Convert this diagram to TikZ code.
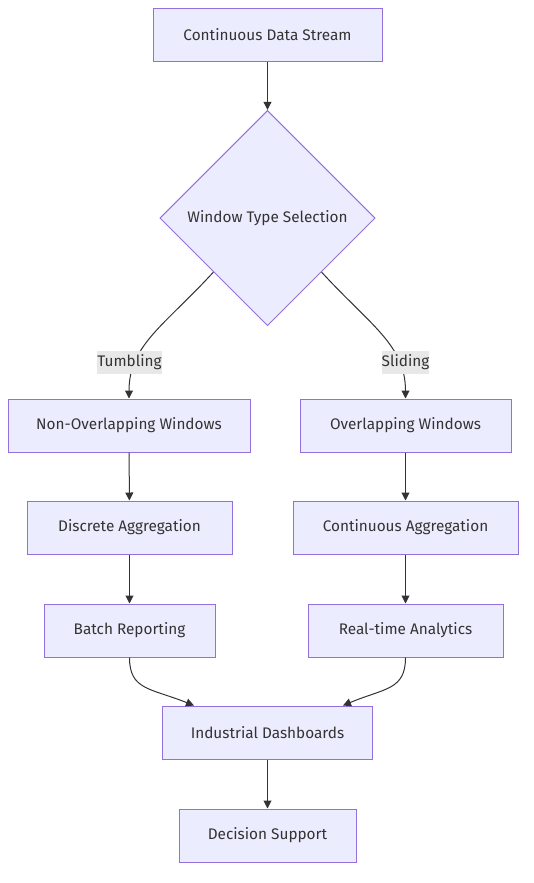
\documentclass[tikz,border=0pt]{standalone}
\usepackage{fontspec}
\setmainfont{Fira Sans}
\usetikzlibrary{shapes.geometric,arrows.meta,calc}
\definecolor{mmfill}{HTML}{ECECFF}
\definecolor{mmstroke}{HTML}{9370DB}
\definecolor{mmline}{HTML}{333333}
\definecolor{mmtext}{HTML}{333333}
\definecolor{mmlabel}{HTML}{E8E8E8}
\tikzset{
  box/.style={draw=mmstroke, fill=mmfill, line width=0.75pt, minimum height=39.75pt, inner sep=0pt, text=mmtext, font=\fontsize{11.5}{13}\selectfont},
  decision/.style={diamond, aspect=1, draw=mmstroke, fill=mmfill, line width=0.75pt, minimum size=161.5pt, inner sep=0pt, text=mmtext, font=\fontsize{11.5}{13}\selectfont},
  elabel/.style={fill=mmlabel, inner sep=0pt, minimum width=47pt, minimum height=17pt, text=mmtext, font=\fontsize{11.5}{13}\selectfont},
  conn/.style={draw=mmline, line width=0.75pt, -{Triangle[length=6pt,width=6pt]}},
}
\begin{document}
\begin{tikzpicture}[x=0.75pt,y=-0.75pt]
\useasboundingbox (0,0) rectangle (534,883);
\node[box, minimum width=171.75pt] (cds) at (267.5,34.5) {Continuous Data Stream};
\node[decision] (sel) at (267.5,218) {Window Type Selection};
\node[box, minimum width=181.5pt] (now) at (129,425.5) {Non-Overlapping Windows};
\node[box, minimum width=158.25pt] (ow) at (405.5,425.5) {Overlapping Windows};
\node[box, minimum width=153.75pt] (da) at (129.5,527.5) {Discrete Aggregation};
\node[box, minimum width=168.75pt] (ca) at (405.5,527.5) {Continuous Aggregation};
\node[box, minimum width=128.25pt] (br) at (129.5,630.5) {Batch Reporting};
\node[box, minimum width=146.25pt] (rta) at (405.5,630.5) {Real-time Analytics};
\node[box, minimum width=157.5pt] (dash) at (267.5,732.5) {Industrial Dashboards};
\node[box, minimum width=132.75pt] (ds) at (267.5,835.5) {Decision Support};

\coordinate (selL) at ($(sel.west)!0.5!(sel.south)$);
\coordinate (selR) at ($(sel.east)!0.5!(sel.south)$);
\coordinate (dashL) at ($(dash.north)+(-73.5,0)$);
\coordinate (dashR) at ($(dash.north)+(75.5,0)$);

\draw[conn] (cds) -- (sel);
\draw[conn] (selL) .. controls (165,325) and (129,345) .. (now.north);
\draw[conn] (selR) .. controls (370,325) and (405.5,345) .. (ow.north);
\node[elabel] (tl) at (129.5,362.3) {Tumbling};
\node[elabel, minimum width=35pt] (sl) at (405.5,362.3) {Sliding};
\draw[conn] (now) -- (da);
\draw[conn] (ow) -- (ca);
\draw[conn] (da) -- (br);
\draw[conn] (ca) -- (rta);
\draw[conn] (br.south) .. controls (129.5,690) and (150,688) .. (dashL);
\draw[conn] (rta.south) .. controls (405.5,690) and (385,688) .. (dashR);
\draw[conn] (dash) -- (ds);
\end{tikzpicture}
\end{document}
